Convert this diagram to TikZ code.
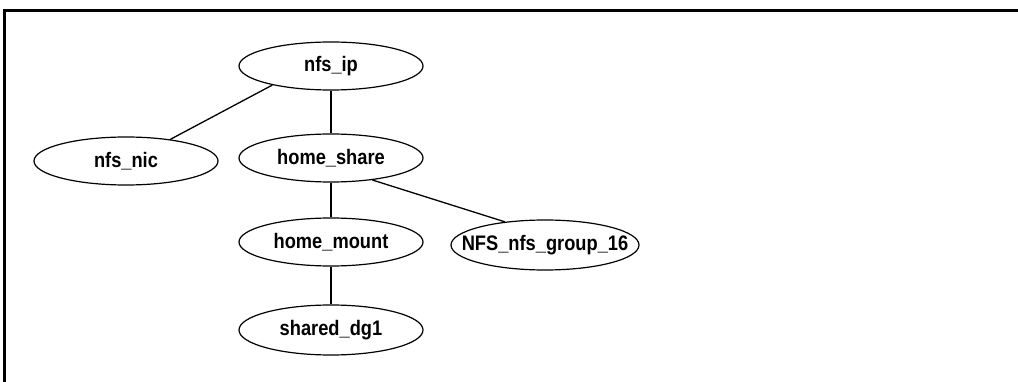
\documentclass[tikz,border=0pt]{standalone}
\usepackage{fontspec}
\setmainfont{Liberation Sans}
\usetikzlibrary{shapes.geometric}
\newcommand\nm[1]{\makebox[0pt]{\scalebox{0.87}[1]{#1}}}
\begin{document}
\begin{tikzpicture}[x=1pt,y=-1pt,
  res/.style={ellipse,draw,line width=1.2pt,minimum width=184pt,minimum height=48pt,inner sep=0pt,font=\fontsize{21}{23}\selectfont\bfseries},
  edge/.style={line width=1.3pt}]
\useasboundingbox (0,0) rectangle (1018,382);
\draw[line width=2.6pt] (4.5,382) -- (4.5,10.5) -- (1018,10.5);
\node[res] (ip) at (331,66) {\nm{nfs\_ip}};
\node[res] (nic) at (126,161) {\nm{nfs\_nic}};
\node[res] (hs) at (331,158) {\nm{home\_share}};
\node[res] (hm) at (331,242) {\nm{home\_mount}};
\node[res,minimum width=188pt,minimum height=50pt] (grp) at (545,245) {\nm{NFS\_nfs\_group\_16}};
\node[res,minimum height=50pt] (dg) at (331,330) {\nm{shared\_dg1}};
\draw[edge] (ip.-162) -- (nic.26);
\draw[edge] (ip.south) -- (hs.north);
\draw[edge] (hs.-28) -- (grp.150);
\draw[edge] (hs.south) -- (hm.north);
\draw[edge] (hm.south) -- (dg.north);
\end{tikzpicture}
\end{document}
